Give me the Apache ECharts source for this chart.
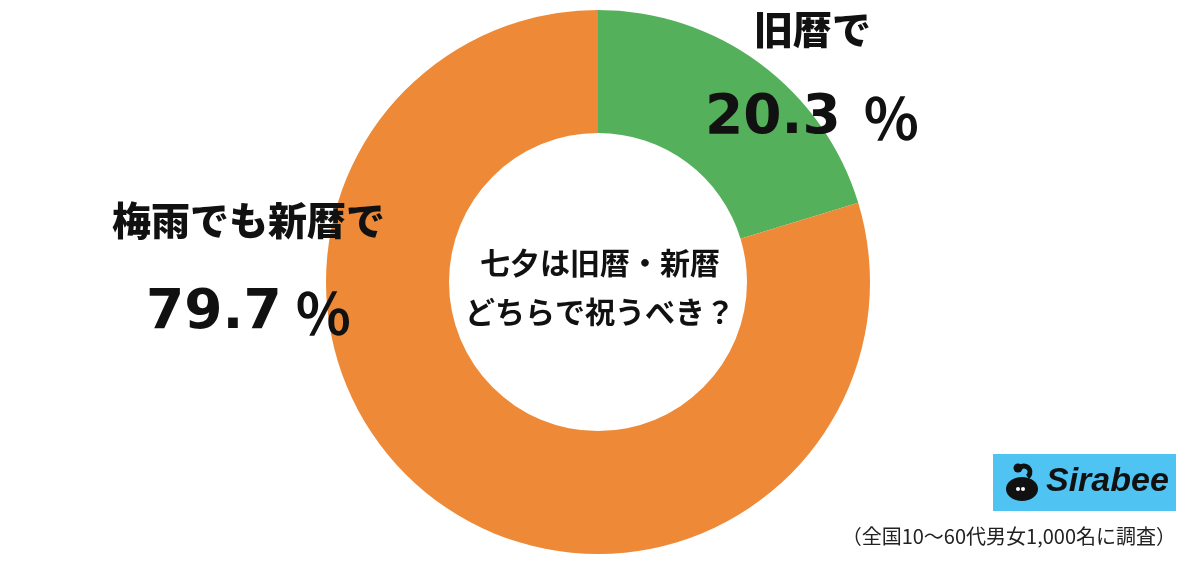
<!DOCTYPE html>
<html>
<head>
<meta charset="utf-8">
<script src="https://cdn.jsdelivr.net/npm/echarts@6/dist/echarts.min.js"></script>
<style>html,body{margin:0;padding:0;background:#fff}#c{width:1200px;height:563px}</style>
</head>
<body>
<div id="c"></div>
<script>
var categories = ['旧暦で', '梅雨でも新暦で'];
var values = [20.3, 79.7];
var colors = ['#55B05B', '#EE8A37'];
var centerLines = ['七夕は旧暦・新暦', 'どちらで祝うべき？'];
var footnote = '（全国10〜60代男女1,000名に調査）';

var chart = echarts.init(document.getElementById('c'));
var jp = '"Noto Sans CJK JP", "Noto Sans", sans-serif';
var num = '"DejaVu Sans", "Liberation Sans", sans-serif';
function pctRich(gap){
  return {
    n: { font: 'bold 55px ' + num, fill: '#111' },
    g: { width: gap },
    p: { font: 'bold 57px ' + jp, fill: '#111' }
  };
}
function pctText(v){ return '{n|' + v.toFixed(1) + '}{g|}{p|％}'; }

chart.setOption({
  animation: false,
  series: [{
    type: 'pie',
    z: 1,
    center: [598, 282],
    radius: [149, 272],
    startAngle: 90,
    clockwise: true,
    label: { show: false },
    labelLine: { show: false },
    emphasis: { disabled: true },
    data: categories.map(function(c, i){ return { name: c, value: values[i], itemStyle: { color: colors[i] } }; })
  }],
  graphic: { elements: [
    { type: 'text', z: 100, left: 754, top: 10, style: { text: categories[0], font: '900 39px ' + jp, fill: '#111' } },
    { type: 'text', z: 100, left: 705, top: 90, style: { text: pctText(values[0]), rich: pctRich(22) } },
    { type: 'text', z: 100, left: 112, top: 201, style: { text: categories[1], font: '900 39px ' + jp, fill: '#111' } },
    { type: 'text', z: 100, left: 146, top: 285, style: { text: pctText(values[1]), rich: pctRich(13) } },
    { type: 'text', z: 100, x: 600, y: 263, style: { text: centerLines[0], font: 'bold 30px ' + jp, fill: '#111', align: 'center', verticalAlign: 'middle' } },
    { type: 'text', z: 100, x: 600, y: 312, style: { text: centerLines[1], font: 'bold 30px ' + jp, fill: '#111', align: 'center', verticalAlign: 'middle' } },
    { type: 'rect', z: 100, shape: { x: 993, y: 454, width: 183, height: 57 }, style: { fill: '#4FC3F1' } },
    { type: 'ellipse', z: 101, shape: { cx: 1022, cy: 489, rx: 16, ry: 12 }, style: { fill: '#111' } },
    { type: 'circle', z: 101, shape: { cx: 1018, cy: 468, r: 4.5 }, style: { fill: '#111' } },
    { type: 'arc', z: 101, shape: { cx: 1024, cy: 472, r: 6, startAngle: Math.PI * 1.1, endAngle: Math.PI * 2.3 }, style: { stroke: '#111', lineWidth: 5, fill: 'none' } },
    { type: 'circle', z: 102, shape: { cx: 1018, cy: 489, r: 2 }, style: { fill: '#fff' } },
    { type: 'circle', z: 102, shape: { cx: 1023, cy: 489, r: 2 }, style: { fill: '#fff' } },
    { type: 'text', z: 101, left: 1046, top: 465, style: { text: 'Sirabee', font: 'italic bold 34px "Liberation Sans", Arial, sans-serif', fill: '#111' } },
    { type: 'text', z: 100, right: 24, top: 526, style: { text: footnote, font: '20px ' + jp, fill: '#222' } }
  ]}
});
</script>
</body>
</html>
